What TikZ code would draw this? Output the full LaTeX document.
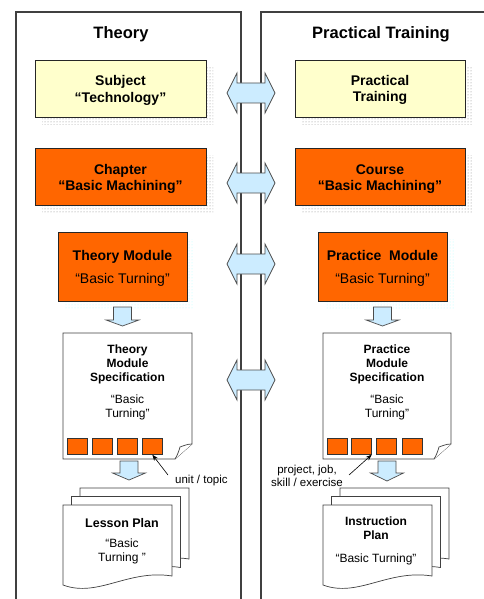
\documentclass[tikz,border=0pt]{standalone}
\usepackage{fontspec}
\setmainfont{Liberation Sans}
\usetikzlibrary{patterns,arrows.meta,shadows}

\definecolor{subjyellow}{HTML}{FFFFCC}
\definecolor{chaporange}{HTML}{FF6600}
\definecolor{linkblue}{HTML}{CCECFF}
\definecolor{framegray}{HTML}{404040}

\tikzset{
  panel/.style={draw=framegray, line width=1.1pt},
  heading/.style={font=\bfseries\fontsize{16.5}{19}\selectfont},
  levelbox/.style={draw=black!85, line width=0.9pt, inner sep=0pt},
  boxtext/.style={align=center, inner sep=0pt, font=\bfseries\fontsize{14}{16.5}\selectfont},
  dotshadow/.style={general shadow={pattern=dots, pattern color=#1,
    shadow xshift=7pt, shadow yshift=-7pt}},
  yellowbox/.style={levelbox, fill=subjyellow, minimum width=171pt, minimum height=57pt,
    dotshadow=gray},
  orangebox/.style={levelbox, fill=chaporange, minimum width=171pt, minimum height=57pt,
    dotshadow=gray},
  modulebox/.style={levelbox, fill=chaporange, minimum width=129pt, minimum height=69pt,
    dotshadow=cyan!30},
  blockarrow/.style={fill=linkblue, draw=black!70, line width=0.7pt, line join=miter},
  sheet/.style={fill=white, draw=black!75, line width=0.7pt},
  unitbox/.style={fill=chaporange, draw=black!80, line width=0.7pt, inner sep=0pt,
    minimum width=20pt, minimum height=16pt},
  doctitle/.style={align=center, font=\bfseries\fontsize{12}{14}\selectfont},
  docname/.style={align=center, font=\fontsize{12}{14}\selectfont},
  note/.style={align=center, inner sep=0pt, font=\fontsize{11.5}{13.5}\selectfont},
  pointer/.style={draw=black, line width=0.6pt, -{Stealth[length=6pt,width=4.5pt]}},
}

% horizontal two-headed link arrow between the two columns
\newcommand\linkarrow[1]{%
  \draw[blockarrow] (227,#1) -- (237,#1-20) -- (237,#1-10) -- (265,#1-10)
    -- (265,#1-20) -- (275,#1) -- (265,#1+20) -- (265,#1+10) -- (237,#1+10)
    -- (237,#1+20) -- cycle;}
% downward block arrow: centre x, top, head base, tip
\newcommand\flowdown[4]{%
  \draw[blockarrow] (#1-9,#2) -- (#1+9,#2) -- (#1+9,#3) -- (#1+16.5,#3) -- (#1,#4)
    -- (#1-16.5,#3) -- (#1-9,#3) -- cycle;}
% one sheet of a plan with a wavy lower edge: left x, top y
\newcommand\plansheet[2]{%
  \draw[sheet] (#1,#2) -- (#1+109,#2) -- (#1+109,#2+71)
    .. controls (#1+65,#2+64) and (#1+35,#2+93) .. (#1,#2+80) -- cycle;}
% specification sheet with folded corner: left x, right x
\newcommand\specsheet[2]{%
  \draw[sheet] (#1,333) -- (#2,333) -- (#2,444) -- (#2-17,459) -- (#1,459) -- cycle;
  \draw[sheet] (#2,444) .. controls (#2-5,444) and (#2-9,446) .. (#2-12,447)
    .. controls (#2-13,451) and (#2-15,456) .. (#2-17,459);}

\begin{document}
\begin{tikzpicture}[x=1pt, y=-1pt]
\useasboundingbox (0,0) rectangle (484,599);
\clip (0,0) rectangle (484,599);

% column frames
\draw[panel] (16,620) -- (16,12) -- (241,12) -- (241,620);
\draw[panel] (261,620) -- (261,12) -- (500,12) -- (500,620);

\node[heading] (theory) at (121,34) {Theory};
\node[heading] (practice) at (381,34) {Practical Training};

% levels of both columns
\node[yellowbox] (subj) at (120.5,88.5) {};
\node[boxtext] (subjtext) at (120.5,90.5) {Subject\\“Technology”};
\node[yellowbox, minimum width=170pt] (ptrain) at (380,88.5) {};
\node[boxtext] (ptraintext) at (380,90) {Practical\\Training};
\node[orangebox] (chap) at (120.5,176.5) {};
\node[boxtext] (chaptext) at (120.5,179) {Chapter\\“Basic Machining”};
\node[orangebox, minimum width=170pt] (course) at (380,176.5) {};
\node[boxtext] (coursetext) at (380,179) {Course\\“Basic Machining”};
\node[modulebox] (tmod) at (122.5,266.5) {};
\node[boxtext] (tmodtext) at (122.5,268.5)
  {Theory Module\\[6.5pt]{\mdseries “Basic Turning”}};
\node[modulebox] (pmod) at (382.5,266.5) {};
\node[boxtext] (pmodtext) at (382.5,268.5)
  {Practice~~Module\\[6.5pt]{\mdseries “Basic Turning”}};

% links between the columns
\linkarrow{93}
\linkarrow{183}
\linkarrow{264}
\linkarrow{380}

% module specifications
\flowdown{122.5}{307}{320}{326}
\flowdown{382.5}{307}{320}{326}

\specsheet{63}{192}
\node[doctitle] (tspec) at (127.5,364) {Theory\\Module\\Specification};
\node[docname] (tspecname) at (127.5,407) {“Basic\\Turning”};
\foreach \i/\x in {1/67,2/92,3/117,4/142}
  \node[unitbox, anchor=north west] (tsq\i) at (\x,438) {};

\specsheet{323}{451}
\node[doctitle] (pspec) at (387,364) {Practice\\Module\\Specification};
\node[docname] (pspecname) at (387,407) {“Basic\\Turning”};
\foreach \i/\x in {1/327,2/351,3/376,4/402}
  \node[unitbox, anchor=north west] (psq\i) at (\x,438) {};

% unit labels
\node[note, anchor=west] (unitlabel) at (175,481) {unit / topic};
\coordinate (unitfoot) at (168,475);
\draw[pointer] (unitfoot) -- (tsq4.south);

\node[note] (projlabel) at (307,476) {project, job,\\skill / exercise};
\coordinate (projfoot) at (349,475);
\draw[pointer] (projfoot) -- (psq2.south east);

% plans
\flowdown{129}{461}{473}{480}
\flowdown{387}{461}{473}{481}

\plansheet{80}{488}
\plansheet{71.5}{496.5}
\plansheet{63}{505}
\node[doctitle, font=\bfseries\fontsize{12.5}{14}\selectfont] (lesson) at (122,523) {Lesson Plan};
\node[docname] (lessonname) at (122,551) {“Basic\\Turning ”};

\plansheet{340}{488}
\plansheet{331.5}{496.5}
\plansheet{323}{505}
\node[doctitle, font=\bfseries\fontsize{12}{13.5}\selectfont] (instr) at (376,528) {Instruction\\Plan};
\node[docname] (instrname) at (376,559) {“Basic Turning”};
\end{tikzpicture}
\end{document}
